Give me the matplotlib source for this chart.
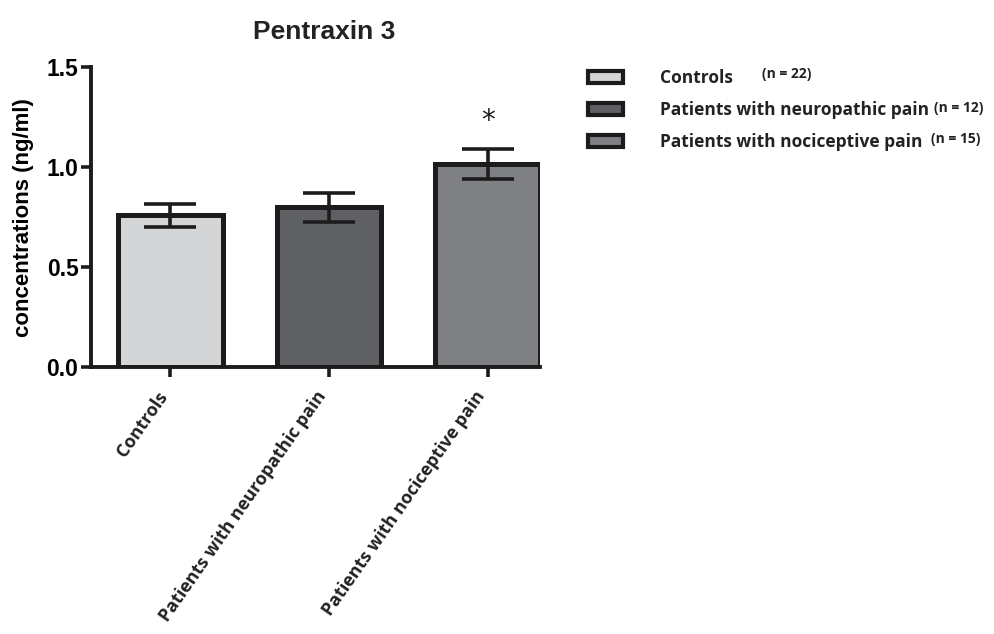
import matplotlib.pyplot as plt
from matplotlib.patches import Patch

# Data
groups = ['Controls', 'Patients with neuropathic pain', 'Patients with nociceptive pain']
means = [0.76, 0.80, 1.015]
sem = [0.057, 0.072, 0.075]
n_labels = ['(n = 22)', '(n = 12)', '(n = 15)']
colors = ['#d4d5d7', '#5f6064', '#7f8084']
edge = '#1c1c1c'

fig = plt.figure(figsize=(9.94, 6.34), dpi=100)
ax = fig.add_axes([0.0915, 0.421, 0.452, 0.473])

x = list(range(len(groups)))
bars = ax.bar(x, means, width=0.66, color=colors, edgecolor=edge, linewidth=3.6, zorder=2)
ax.errorbar(x, means, yerr=sem, fmt='none', ecolor=edge, elinewidth=2.6,
            capsize=19, capthick=2.6, zorder=3)

# significance mark
ax.text(2, 1.23, '*', ha='center', va='center', fontsize=20, color=edge)

ax.set_xlim(-0.5, 2.33)
ax.set_ylim(0, 1.5)
ax.set_yticks([0.0, 0.5, 1.0, 1.5])
ax.set_yticklabels(['0.0', '0.5', '1.0', '1.5'], fontsize=16.5, fontweight='bold',
                   family='Liberation Sans')
ax.set_xticks(x)
ax.set_xticklabels([])
# rotated category labels, nudged left of the ticks like the original
for i, g in enumerate(groups):
    ax.annotate(g, xy=(i, 0), xycoords=('data', 'axes fraction'),
                xytext=(-10, -15), textcoords='offset points',
                rotation=55, ha='right', va='top', rotation_mode='anchor',
                fontsize=13, fontweight='bold', family='Open Sans', color='#222222')
ax.tick_params(axis='both', direction='out', length=7, width=2.6, color=edge)
ax.tick_params(axis='y', pad=2)
for s in ['top', 'right']:
    ax.spines[s].set_visible(False)
for s in ['left', 'bottom']:
    ax.spines[s].set_linewidth(2.8)
    ax.spines[s].set_color(edge)

ax.set_ylabel('concentrations (ng/ml)', fontsize=16, fontweight='bold',
              family='Liberation Sans', labelpad=9)
ax.set_title('Pentraxin 3', fontsize=19, fontweight='bold', family='Liberation Sans',
             pad=20, x=0.52, color='#222222')

# legend
handles = [Patch(facecolor=c, edgecolor=edge, linewidth=3) for c in colors]
leg = fig.legend(handles, groups, loc='upper left', bbox_to_anchor=(0.592, 0.891),
                 frameon=False, handlelength=2.0, handleheight=0.72, handletextpad=2.1,
                 labelspacing=0.8, borderpad=0, borderaxespad=0,
                 prop={'family': 'Open Sans', 'weight': 'bold', 'size': 12.5})
for t in leg.get_texts():
    t.set_color('#222222')
n_x = [0.767, 0.940, 0.937]
n_y = [0.883, 0.829, 0.781]
for xx, yy, t in zip(n_x, n_y, n_labels):
    fig.text(xx, yy, t, fontsize=10, fontweight='bold', family='Open Sans',
             va='center', color='#222222')

fig.savefig('out.png', dpi=100)
